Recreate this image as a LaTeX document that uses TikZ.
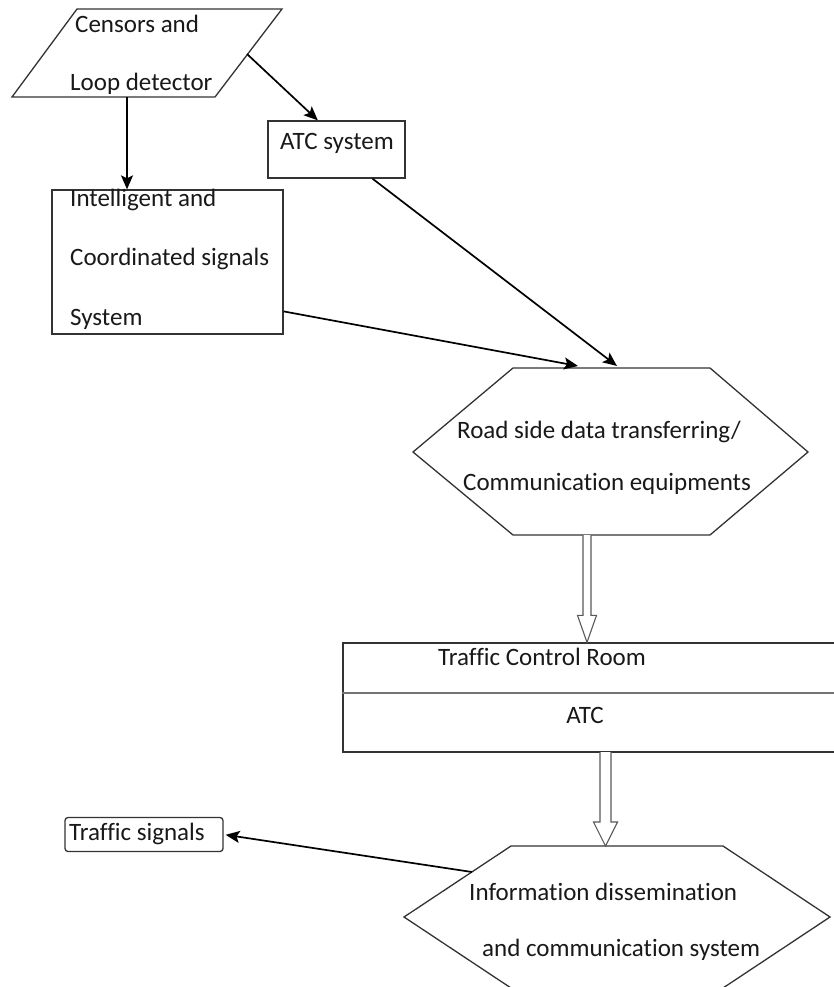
\documentclass[tikz,border=0pt]{standalone}
\usepackage{fontspec}
\setmainfont[Ligatures={NoCommon}]{Carlito}
\usetikzlibrary{arrows.meta,calc}
\begin{document}
\begin{tikzpicture}[x=1pt,y=-1pt,
  outline/.style={draw=black!80,line width=1.3pt,line join=miter},
  conn/.style={draw=black,line width=1.7pt,-{Stealth[length=14pt,width=12pt,inset=3pt]}},
  hollow/.style={draw=black!65,line width=1.1pt,fill=white,line join=miter},
  lbl/.style={anchor=base west,inner sep=0pt,font=\fontsize{25}{30}\selectfont,text=black!90}
]
\useasboundingbox (0,0) rectangle (834,987);
\fill[white] (0,0) rectangle (834,987);

% ---------- shapes ----------
% parallelogram: Censors and Loop detector
\draw[outline] (77,9) coordinate (parTL) -- (282,9) coordinate (parTR)
  -- (215,97) coordinate (parBR) -- (12,97) coordinate (parBL) -- cycle;
\coordinate (parOut1) at (127,97);
\coordinate (parOut2) at (247,54);

% ATC system
\node[outline,minimum width=137,minimum height=57,inner sep=0] (atc) at (336.5,149.5) {};
% Intelligent and coordinated signals
\node[outline,minimum width=231,minimum height=144,inner sep=0] (ics) at (167.5,262) {};

% hexagon 1
\draw[outline] (513,368) coordinate (hexA1) -- (710,368) -- (808,452) -- (710,535)
  -- (513,535) -- (413,452) -- cycle;
\coordinate (hexAin1) at (578,366);
\coordinate (hexAin2) at (617,366);
\coordinate (hexAout) at (587,535);

% Traffic Control Room
\node[outline,minimum width=497,minimum height=109,inner sep=0] (tcr) at (591.5,697.5) {};
\draw[draw=black!55,line width=1.2pt] (tcr.west |- 0,693) coordinate (divL) -- (tcr.east |- 0,693) coordinate (divR);
\coordinate (tcrOut) at (605.5,752);

% hexagon 2
\draw[outline] (511,846) -- (723,846) -- (830,917) -- (723,988)
  -- (511,988) -- (404,917) -- cycle;
\coordinate (hexBin) at (605.5,846);
\coordinate (hexBout) at (472,872);

% Traffic signals
\node[outline,rounded corners=3pt,minimum width=158,minimum height=34,inner sep=0] (ts) at (144,834.5) {};

% ---------- texts ----------
\node[lbl] (t1) at (75,33) {Censors and};
\node[lbl] (t2) at (70,91) {Loop detector};
\node[lbl] (t3) at (280,150) {ATC system};
\node[lbl] (t4) at (70,207) {Intelligent and};
\node[lbl] (t5) at (70,265) {Coordinated signals};
\node[lbl] (t6) at (70,325) {System};
\node[lbl] (t7) at (457,438) {Road side data transferring/};
\node[lbl] (t8) at (463,490) {Communication equipments};
\node[lbl] (t9) at (438,665) {Traffic Control Room};
\node[lbl,anchor=base] (t10) at (585,723) {ATC};
\node[lbl] (t11) at (69,840) {Traffic signals};
\node[lbl] (t12) at (469,900) {Information dissemination};
\node[lbl] (t13) at (482,956) {and communication system};

% ---------- connectors ----------
\draw[conn] (parOut1) -- (parOut1 |- ics.north);
\draw[conn] (parOut2) -- ($(atc.north west)!0.365!(atc.north east)$);
\draw[conn] ($(atc.south west)!0.76!(atc.south east)$) -- (hexAin2);
\draw[conn] ($(ics.north east)!0.84!(ics.south east)$) -- (hexAin1);
\draw[conn,shorten >=2pt] (hexBout) -- (ts.east);

% hollow arrows
\coordinate (tcrIn) at (hexAout |- tcr.north);
\draw[hollow] ($(hexAout)+(-4,0)$) -- ($(tcrIn)+(-4,-27)$) -- ($(tcrIn)+(-9.5,-27)$)
  -- (tcrIn) -- ($(tcrIn)+(9.5,-27)$) -- ($(tcrIn)+(4,-27)$) -- ($(hexAout)+(4,0)$);
\draw[hollow] ($(tcrOut)+(-5.5,0)$) -- ($(hexBin)+(-5.5,-24)$) -- ($(hexBin)+(-12,-24)$)
  -- (hexBin) -- ($(hexBin)+(12,-24)$) -- ($(hexBin)+(5.5,-24)$) -- ($(tcrOut)+(5.5,0)$);
\end{tikzpicture}
\end{document}
